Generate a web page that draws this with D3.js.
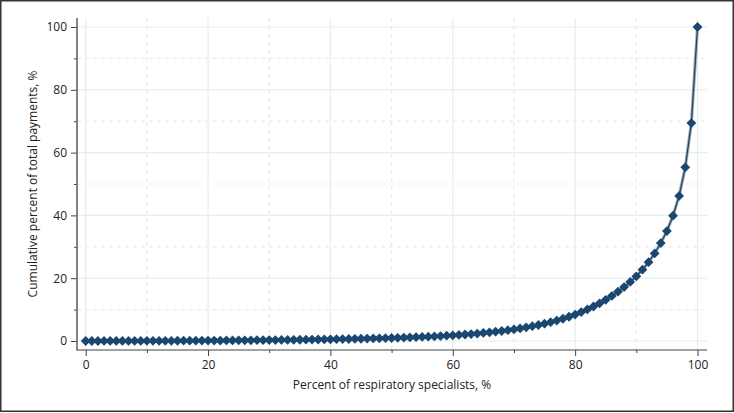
<!DOCTYPE html>
<html>
<head>
<meta charset="utf-8">
<script src="https://cdn.jsdelivr.net/npm/d3@7"></script>
<style>
  html, body { margin: 0; padding: 0; background: #fff; }
  svg { display: block; }
  text { font-family: "Open Sans", "Noto Sans", sans-serif; fill: #222; }
</style>
</head>
<body>
<svg id="chart" width="734" height="413"></svg>
<script>
// Percentiles of respiratory specialists (x) and cumulative share of payments (y)
const percentSpecialists = d3.range(0, 101);
const cumulativePayments = [
  0, 0, 0, 0.01, 0.01, 0.01, 0.02, 0.02, 0.03, 0.03,
  0.04, 0.05, 0.05, 0.06, 0.07, 0.08, 0.09, 0.10, 0.11, 0.12,
  0.13, 0.14, 0.15, 0.17, 0.18, 0.20, 0.21, 0.23, 0.25, 0.27,
  0.29, 0.31, 0.33, 0.35, 0.37, 0.40, 0.42, 0.45, 0.48, 0.51,
  0.54, 0.57, 0.61, 0.64, 0.68, 0.72, 0.76, 0.81, 0.86, 0.91,
  0.96, 1.02, 1.08, 1.15, 1.22, 1.30, 1.38, 1.47, 1.57, 1.68,
  1.80, 1.93, 2.07, 2.22, 2.38, 2.56, 2.75, 2.96, 3.19, 3.44,
  3.72, 4.02, 4.35, 4.71, 5.10, 5.53, 6.00, 6.52, 7.09, 7.72,
  8.42, 9.20, 10.05, 10.98, 12.00, 13.12, 14.35, 15.70, 17.18, 18.80,
  20.60, 22.70, 25.10, 27.90, 31.20, 35.00, 39.90, 46.20, 55.30, 69.40,
  100
];
const majorTicks = [0, 20, 40, 60, 80, 100];
const minorTicks = [10, 30, 50, 70, 90];
const xTitle = "Percent of respiratory specialists, %";
const yTitle = "Cumulative percent of total payments, %";

const data = percentSpecialists.map((p, i) => ({ x: p, y: cumulativePayments[i] }));

const svg = d3.select("#chart");
const W = 734, H = 413;

// outer frame
svg.append("rect").attr("x", 0.75).attr("y", 0.75).attr("width", W - 1.5).attr("height", H - 2.5)
  .attr("fill", "#fff").attr("stroke", "#333").attr("stroke-width", 1.5);

const x = d3.scaleLinear().domain([0, 100]).range([85.7, 697.5]);
const y = d3.scaleLinear().domain([0, 100]).range([341, 27]);

const axisLeftX = 77, axisBottomY = 350, plotTop = 18, plotRight = 707;

// gridlines
const grid = svg.append("g");
const gridColor = "#e3eeef";
majorTicks.forEach(t => {
  grid.append("line").attr("x1", axisLeftX).attr("x2", plotRight).attr("y1", y(t)).attr("y2", y(t))
    .attr("stroke", gridColor).attr("stroke-width", 1.2);
  grid.append("line").attr("y1", plotTop).attr("y2", axisBottomY).attr("x1", x(t)).attr("x2", x(t))
    .attr("stroke", gridColor).attr("stroke-width", 1.2);
});
minorTicks.forEach(t => {
  grid.append("line").attr("x1", axisLeftX).attr("x2", plotRight).attr("y1", y(t)).attr("y2", y(t))
    .attr("stroke", gridColor).attr("stroke-width", 1.2).attr("stroke-dasharray", "4,4");
  grid.append("line").attr("y1", plotTop).attr("y2", axisBottomY).attr("x1", x(t)).attr("x2", x(t))
    .attr("stroke", gridColor).attr("stroke-width", 1.2).attr("stroke-dasharray", "4,4");
});

// axes
const yAxis = d3.axisLeft(y).tickValues(majorTicks).tickSize(6).tickPadding(4).tickFormat(d3.format("d"));
const yAxisMinor = d3.axisLeft(y).tickValues(minorTicks).tickSize(3).tickFormat("");
const xAxis = d3.axisBottom(x).tickValues(majorTicks).tickSize(6).tickPadding(4).tickFormat(d3.format("d"));
const xAxisMinor = d3.axisBottom(x).tickValues(minorTicks).tickSize(3).tickFormat("");

function styleAxis(g) {
  g.select(".domain").remove();
  g.selectAll(".tick line").attr("stroke", "#444").attr("stroke-width", 1);
  g.selectAll(".tick text").attr("font-size", 12).attr("fill", "#222")
    .attr("font-family", '"Open Sans", "Noto Sans", sans-serif');
}

svg.append("g").attr("transform", `translate(${axisLeftX},0)`).call(yAxis).call(styleAxis);
svg.append("g").attr("transform", `translate(${axisLeftX},0)`).call(yAxisMinor).call(styleAxis);
svg.append("g").attr("transform", `translate(0,${axisBottomY})`).call(xAxis).call(styleAxis);
svg.append("g").attr("transform", `translate(0,${axisBottomY})`).call(xAxisMinor).call(styleAxis);

// axis lines
svg.append("line").attr("x1", axisLeftX).attr("x2", axisLeftX).attr("y1", plotTop).attr("y2", axisBottomY + 0.5)
  .attr("stroke", "#666").attr("stroke-width", 1.6);
svg.append("line").attr("x1", axisLeftX).attr("x2", plotRight).attr("y1", axisBottomY).attr("y2", axisBottomY)
  .attr("stroke", "#444").attr("stroke-width", 1.2);

// axis titles
svg.append("text").attr("x", 392).attr("y", 389).attr("text-anchor", "middle")
  .attr("font-size", 12).text(xTitle);
svg.append("text").attr("transform", `translate(37,184) rotate(-90)`).attr("text-anchor", "middle")
  .attr("font-size", 12).text(yTitle);

// line
const line = d3.line().x(d => x(d.x)).y(d => y(d.y));
svg.append("path").datum(data).attr("d", line).attr("fill", "none")
  .attr("stroke", "#a9aeb2").attr("stroke-width", 3.2);
svg.append("path").datum(data).attr("d", line).attr("fill", "none")
  .attr("stroke", "#1a476f").attr("stroke-width", 1.3);

// diamond markers
const diamond = d3.symbol().type(d3.symbolSquare).size(48);
svg.append("g").selectAll("path.m").data(data).join("path")
  .attr("class", "m")
  .attr("d", diamond)
  .attr("transform", d => `translate(${x(d.x)},${y(d.y)}) rotate(45)`)
  .attr("fill", "#1a476f");
</script>
</body>
</html>
